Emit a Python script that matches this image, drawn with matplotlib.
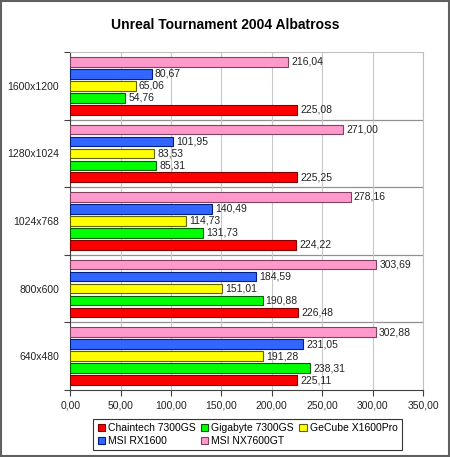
import numpy as np
import matplotlib
matplotlib.use('Agg')
import matplotlib.pyplot as plt
from matplotlib.patches import Rectangle

plt.rcParams['font.family'] = ['Liberation Sans', 'DejaVu Sans']

# data
resolutions = ['640x480', '800x600', '1024x768', '1280x1024', '1600x1200']
cards = ['Chaintech 7300GS', 'Gigabyte 7300GS', 'GeCube X1600Pro', 'MSI RX1600', 'MSI NX7600GT']
chaintech = [225.11, 226.48, 224.22, 225.25, 225.08]
gigabyte = [238.31, 190.88, 131.73, 85.31, 54.76]
gecube = [191.28, 151.01, 114.73, 83.53, 65.06]
msi_rx1600 = [231.05, 184.59, 140.49, 101.95, 80.67]
msi_nx7600gt = [302.88, 303.69, 278.16, 271.00, 216.04]
colors = ['#ff0000', '#00ff00', '#ffff00', '#3366ff', '#ff99cc']
edges = ['#800000', '#006000', '#606000', '#002080', '#804060']

series = [chaintech, gigabyte, gecube, msi_rx1600, msi_nx7600gt]

fig = plt.figure(figsize=(4.5, 4.57), dpi=100)
ax = fig.add_axes([0.156, 0.147, 0.784, 0.739])

pitch = 0.1775
h = 0.145
y = np.arange(len(resolutions))
bars = []
for i, (vals, c, ec) in enumerate(zip(series, colors, edges)):
    off = (i - 2) * pitch
    b = ax.barh(y + off, vals, height=h, color=c, edgecolor=ec, linewidth=0.8, zorder=3, label=cards[i])
    bars.append(b)
    for yy, v in zip(y + off, vals):
        ax.text(v + 3, yy, f'{v:.2f}'.replace('.', ','), va='center', ha='left',
                fontsize=7.5, color='#222222', zorder=4)

ax.set_xlim(0, 350)
ax.set_ylim(-0.5, len(resolutions) - 0.5)
ax.set_xticks(np.arange(0, 351, 50))
ax.set_xticklabels([f'{t:.2f}'.replace('.', ',') for t in np.arange(0, 351, 50)], fontsize=7.5, color='#222222')
ax.set_yticks(np.arange(-0.5, len(resolutions), 1))
ax.set_yticklabels([])
ax.set_yticks(y, minor=True)
ax.set_yticklabels(resolutions, minor=True, fontsize=7.5, color='#222222')
ax.tick_params(axis='y', which='minor', length=0, pad=8)
ax.tick_params(axis='y', which='major', length=4, color='#404040')
ax.tick_params(axis='x', length=4, color='#404040', pad=4)
ax.grid(axis='x', color='#c8c8c8', linewidth=0.8, zorder=0)
for b in np.arange(0.5, len(resolutions) - 0.5, 1):
    ax.axhline(b, color='#909090', linewidth=0.9, zorder=1)
for s in ['top', 'right']:
    ax.spines[s].set_color('#c0c0c0')
for s in ['left', 'bottom']:
    ax.spines[s].set_color('#404040')

fig.text(0.5, 0.945, 'Unreal Tournament 2004 Albatross', ha='center', va='center',
         fontsize=10, fontweight='bold')

order = [0, 3, 1, 4, 2]
leg = fig.legend([bars[i] for i in order], [cards[i] for i in order], ncol=3,
                 loc='center', bbox_to_anchor=(0.55, 0.049), fontsize=7.5,
                 handlelength=0.7, handleheight=0.7, handletextpad=0.3, columnspacing=0.5,
                 labelspacing=0.3, borderpad=0.4, frameon=True, fancybox=False)
leg.get_frame().set_edgecolor('#000000')
leg.get_frame().set_linewidth(0.8)

fig.patches.append(Rectangle((0.002, 0.002), 0.996, 0.996, transform=fig.transFigure,
                             fill=False, edgecolor='#606060', linewidth=1.5))

fig.savefig('out.png', dpi=100)
